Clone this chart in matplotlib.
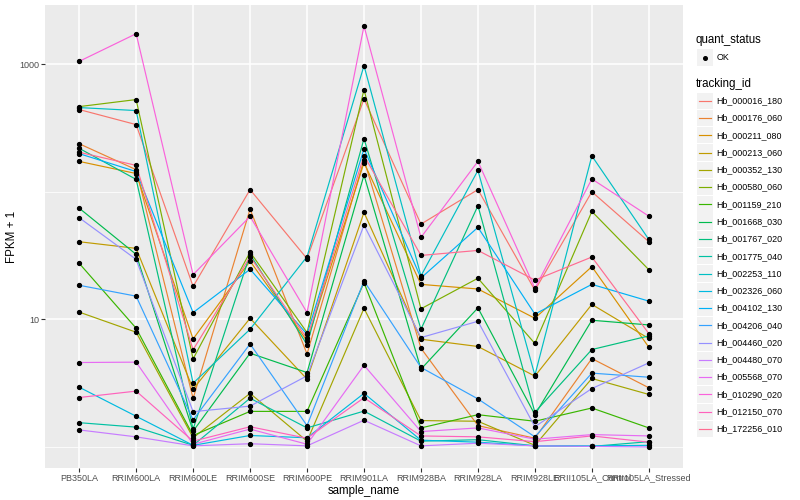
import matplotlib
matplotlib.use("Agg")
import matplotlib.pyplot as plt
from matplotlib.ticker import FixedLocator, NullFormatter, FixedFormatter
from matplotlib.patches import Rectangle
from matplotlib.lines import Line2D
import numpy as np

plt.rcParams['font.family'] = ['Liberation Sans', 'DejaVu Sans']

samples = ["PB350LA", "RRIM600LA", "RRIM600LE", "RRIM600SE", "RRIM600PE",
           "RRIM901LA", "RRIM928BA", "RRIM928LA", "RRIM928LE",
           "RRII105LA_Control", "RRII105LA_Stressed"]

tracking_ids = ["Hb_000016_180", "Hb_000176_060", "Hb_000211_080", "Hb_000213_060",
                "Hb_000352_130", "Hb_000580_060", "Hb_001159_210", "Hb_001668_030",
                "Hb_001767_020", "Hb_001775_040", "Hb_002253_110", "Hb_002326_060",
                "Hb_004102_130", "Hb_004206_040", "Hb_004460_020", "Hb_004480_070",
                "Hb_005568_070", "Hb_010290_020", "Hb_012150_070", "Hb_172256_010"]

# FPKM + 1 per sample (in the order of `samples`)
hb_000016_180 = [441, 336, 18.1, 104, 29.9, 534, 55.8, 104, 16.9, 100, 40.6]
hb_000176_060 = [238, 149, 2.40, 73.1, 5.36, 178, 5.94, 1.47, 1.17, 4.93, 2.91]
hb_000211_080 = [173, 139, 7.02, 28.6, 6.78, 169, 18.8, 17.3, 10.2, 25.9, 6.05]
hb_000213_060 = [40.6, 36.0, 2.84, 10.2, 3.40, 68.9, 6.99, 6.13, 3.59, 13.1, 7.08]
hb_000352_130 = [11.4, 7.93, 1.18, 2.63, 1.11, 12.2, 1.61, 1.59, 1.03, 3.44, 2.58]
hb_000580_060 = [465, 528, 4.90, 33.7, 7.88, 632, 12.1, 21.0, 6.47, 70.1, 24.5]
hb_001159_210 = [27.5, 8.52, 1.23, 1.90, 1.90, 19.4, 1.41, 1.79, 1.59, 2.02, 1.41]
hb_001668_030 = [74.4, 32.3, 1.33, 5.43, 3.83, 135, 4.07, 12.3, 1.79, 9.84, 9.04]
hb_001767_020 = [219, 125, 1.38, 32.3, 6.35, 261, 8.37, 77.7, 1.87, 5.80, 7.42]
hb_001775_040 = [1.55, 1.43, 1.03, 2.41, 1.41, 1.91, 1.11, 1.14, 1.02, 1.01, 1.10]
hb_002253_110 = [457, 433, 3.16, 8.37, 31.0, 973, 21.9, 147, 3.65, 191, 42.3]
hb_002326_060 = [2.94, 1.74, 1.03, 1.23, 1.18, 2.63, 1.13, 1.09, 1.02, 1.02, 1.03]
hb_004102_130 = [199, 144, 11.3, 24.7, 7.64, 217, 21.1, 52.6, 11.0, 18.8, 13.9]
hb_004206_040 = [18.5, 15.2, 1.63, 6.42, 1.47, 20.0, 4.20, 2.38, 1.20, 3.79, 3.52]
hb_004460_020 = [62.6, 29.5, 1.89, 2.09, 3.61, 54.8, 7.20, 9.66, 1.44, 2.87, 4.56]
hb_004480_070 = [1.36, 1.20, 1.02, 1.06, 1.02, 1.62, 1.02, 1.07, 1.02, 1.01, 1.00]
hb_005568_070 = [4.59, 4.62, 1.05, 1.38, 1.05, 4.37, 1.32, 1.41, 1.15, 1.25, 1.22]
hb_010290_020 = [1052, 1733, 22.4, 64.1, 11.3, 1990, 43.9, 173, 17.5, 126, 64.4]
hb_012150_070 = [2.44, 2.74, 1.11, 1.44, 1.17, 2.43, 1.22, 1.20, 1.10, 1.22, 1.09]
hb_172256_010 = [204, 161, 5.78, 31.0, 7.08, 192, 31.7, 34.7, 20.3, 30.8, 7.74]

series = [hb_000016_180, hb_000176_060, hb_000211_080, hb_000213_060, hb_000352_130,
          hb_000580_060, hb_001159_210, hb_001668_030, hb_001767_020, hb_001775_040,
          hb_002253_110, hb_002326_060, hb_004102_130, hb_004206_040, hb_004460_020,
          hb_004480_070, hb_005568_070, hb_010290_020, hb_012150_070, hb_172256_010]

colors = ["#F8766D", "#EA8331", "#D89000", "#C09B00", "#A3A500", "#7CAE00", "#39B600",
          "#00BB4E", "#00BF7D", "#00C1A3", "#00BFC4", "#00BAE0", "#00B0F6", "#35A2FF",
          "#9590FF", "#C77CFF", "#E76BF3", "#FA62DB", "#FF62BC", "#FF6C91"]

W, H = 800, 500
fig = plt.figure(figsize=(8, 5), dpi=100)
L, R, T, B = 45, 683, 5, 468
ax = fig.add_axes([L / W, 1 - B / H, (R - L) / W, (B - T) / H])
ax.set_facecolor("#EBEBEB")
for s in ax.spines.values():
    s.set_visible(False)

x = np.arange(len(samples))
for vals, col in zip(series, colors):
    ax.plot(x, vals, color=col, lw=0.85, zorder=3, solid_capstyle='butt')
for vals in series:
    ax.plot(x, vals, ls='none', marker='o', ms=2.8, color='black', zorder=4)

ax.set_yscale('log')
allv = np.log10(np.concatenate([np.array(v, float) for v in series]))
lo, hi = allv.min(), allv.max()
span = hi - lo
ax.set_ylim(10 ** (lo - 0.05 * span), 10 ** (hi + 0.05 * span))
ax.set_xlim(-0.6, len(samples) - 1 + 0.6)

ax.yaxis.set_major_locator(FixedLocator([10, 1000]))
ax.yaxis.set_major_formatter(FixedFormatter(["10", "1000"]))
ax.yaxis.set_minor_locator(FixedLocator([1, 100]))
ax.yaxis.set_minor_formatter(NullFormatter())
ax.set_xticks(x)
ax.set_xticklabels(samples)

ax.grid(which='major', color='white', lw=1.1, zorder=1)
ax.grid(which='minor', axis='y', color='white', lw=0.55, zorder=1)
ax.tick_params(which='major', length=2.6, width=0.8, color='#333333',
               labelsize=6.5, labelcolor='#4D4D4D', pad=1.5)
ax.tick_params(which='minor', length=0)
ax.set_axisbelow(True)

ax.set_xlabel("sample_name", fontsize=8.3, labelpad=1.5)
ax.set_ylabel("FPKM + 1", fontsize=8.3, labelpad=1)

# legend (drawn in figure pixel space)
def fx(px):
    return px / W

def fy(py):
    return 1 - py / H

fig.text(fx(696), fy(40), "quant_status", fontsize=8.3, va='center', ha='left')
fig.add_artist(Rectangle((fx(697), fy(65.5)), fx(15.5), 16 / H, facecolor='#F2F2F2',
                         edgecolor='none', transform=fig.transFigure))
fig.add_artist(Line2D([fx(704.5)], [fy(57.5)], marker='o', ms=2.6, color='black',
                      ls='none', transform=fig.transFigure))
fig.text(fx(716.5), fy(57.5), "OK", fontsize=6.4, va='center', ha='left')

fig.text(fx(696), fy(84), "tracking_id", fontsize=8.3, va='center', ha='left')
step = 17.28
for i, (name, col) in enumerate(zip(tracking_ids, colors)):
    cy = 100.7 + i * step
    fig.add_artist(Rectangle((fx(697), fy(cy + 8.2)), fx(15.5), 16.4 / H,
                             facecolor='#F2F2F2', edgecolor='none',
                             transform=fig.transFigure))
    fig.add_artist(Line2D([fx(698.5), fx(711)], [fy(cy), fy(cy)], color=col, lw=0.85,
                          transform=fig.transFigure))
    fig.text(fx(716.5), fy(cy), name, fontsize=6.4, va='center', ha='left')

fig.savefig("out.png", dpi=100)
